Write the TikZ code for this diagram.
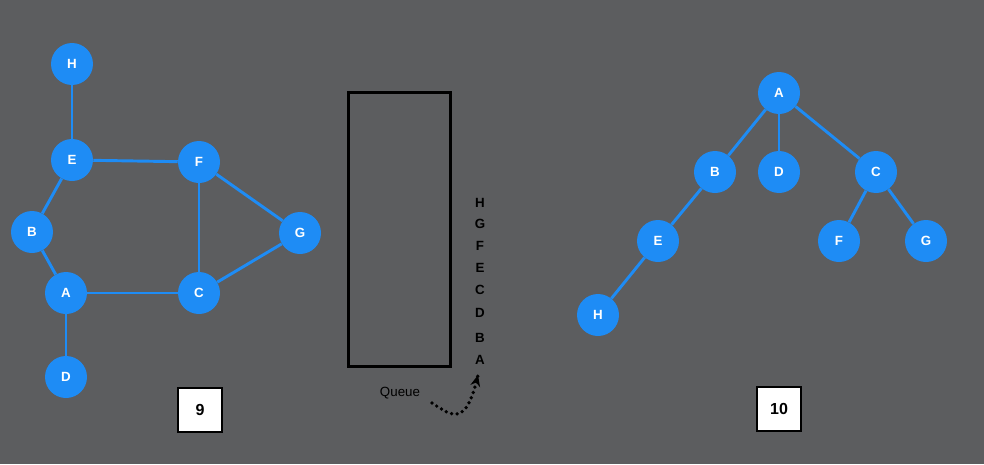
\documentclass[tikz,border=0pt]{standalone}
\usepackage{fontspec}
\setmainfont{Liberation Sans}
\usepackage{xcolor}
\usetikzlibrary{arrows.meta,calc}
\definecolor{bgGray}{HTML}{5C5D5F}
\definecolor{nodeBlue}{HTML}{1E8CF5}

\begin{document}
\begin{tikzpicture}[x=0.75pt, y=-0.75pt,
  font=\bfseries\normalsize, >={Stealth[length=3mm, width=2.6mm]},
  vtx/.style={circle, fill=nodeBlue, text=white, minimum size=31.5pt, inner sep=0pt},
  edge/.style={draw=nodeBlue, line width=2.2pt},
  stamp/.style={draw=black, fill=white, line width=2.2pt, minimum size=33pt, inner sep=0pt, font=\bfseries\large},
  qitem/.style={text=black, inner sep=0pt}]
  % canvas
  \fill[bgGray] (0,0) rectangle (984,464);
  \useasboundingbox (0,0) rectangle (984,464);
  % left graph
  \node[vtx] (lH) at (72,64) {H};
  \node[vtx] (lE) at (72,160) {E};
  \node[vtx] (lF) at (199,162) {F};
  \node[vtx] (lB) at (32,232) {B};
  \node[vtx] (lG) at (300,233) {G};
  \node[vtx] (lA) at (66,293) {A};
  \node[vtx] (lC) at (199,293) {C};
  \node[vtx] (lD) at (66,377) {D};
  \draw[edge] (lH) -- (lE);
  \draw[edge] (lE) -- (lF);
  \draw[edge] (lE) -- (lB);
  \draw[edge] (lB) -- (lA);
  \draw[edge] (lA) -- (lD);
  \draw[edge] (lA) -- (lC);
  \draw[edge] (lF) -- (lC);
  \draw[edge] (lF) -- (lG);
  \draw[edge] (lG) -- (lC);
  \node[stamp] (s9) at (200,410) {9};
  % queue
  \node[draw=black, line width=2.4pt, minimum width=77pt, minimum height=206pt, inner sep=0pt] (queue) at (399.5,229.5) {};
  \node[qitem] (qH) at (480,203) {H};
  \node[qitem] (qG) at (480,224) {G};
  \node[qitem] (qF) at (480,246) {F};
  \node[qitem] (qE) at (480,268) {E};
  \node[qitem] (qC) at (480,290) {C};
  \node[qitem] (qD) at (480,313) {D};
  \node[qitem] (qB) at (480,338) {B};
  \node[qitem] (qA) at (480,360) {A};
  \node[font=\normalsize, text=black] (qlabel) at (400,393) {Queue};
  \coordinate (arrStart) at (432,403);
  \coordinate (arrEnd) at (478,375);
  \draw[black, line width=2.8pt, dash pattern=on 0pt off 4.2pt, line cap=round] (arrStart) .. controls (452,416) and (466,428) .. (arrEnd);
  \draw[->, black, line width=1pt] ($(arrEnd)+(-1.5,6)$) -- (arrEnd);
  % right tree
  \node[vtx] (rA) at (779,93) {A};
  \node[vtx] (rB) at (715,172) {B};
  \node[vtx] (rD) at (779,172) {D};
  \node[vtx] (rC) at (876,172) {C};
  \node[vtx] (rE) at (658,241) {E};
  \node[vtx] (rF) at (839,241) {F};
  \node[vtx] (rG) at (926,241) {G};
  \node[vtx] (rH) at (598,315) {H};
  \draw[edge] (rA) -- (rB);
  \draw[edge] (rA) -- (rD);
  \draw[edge] (rA) -- (rC);
  \draw[edge] (rB) -- (rE);
  \draw[edge] (rE) -- (rH);
  \draw[edge] (rC) -- (rF);
  \draw[edge] (rC) -- (rG);
  \node[stamp] (s10) at (779,409) {10};
\end{tikzpicture}
\end{document}
